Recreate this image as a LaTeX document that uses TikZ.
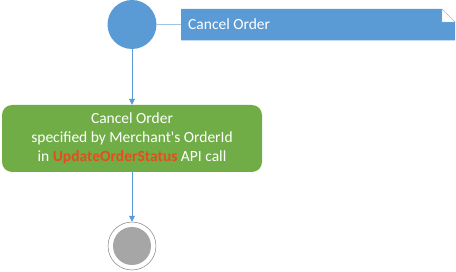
\documentclass[tikz,border=0pt]{standalone}
\usepackage{fontspec}
\setmainfont{Carlito}
\usetikzlibrary{arrows.meta}
\definecolor{vblue}{HTML}{5B9BD5}
\definecolor{lblue}{HTML}{9DC3E6}
\definecolor{vgreen}{HTML}{70AD47}
\definecolor{vred}{HTML}{E84C1C}
\definecolor{vgray}{HTML}{A6A6A6}
\tikzset{
  flow/.style={draw=vblue, line width=0.9pt, -{Triangle[length=6pt,width=6pt]}},
  lbl/.style={text=white, font=\fontsize{15.5}{18.8}\selectfont},
}
\begin{document}
\begin{tikzpicture}[x=1pt,y=1pt]
\useasboundingbox (0,0) rectangle (456,271);
% initial node
\node[circle, fill=vblue, minimum size=49pt, inner sep=0pt] (start) at (132,246.5) {};
% note
\fill[vblue] (181,230.5) -- (181,262) -- (442,262) -- (455,249) -- (455,230.5) -- cycle;
\draw[lblue, fill=white, line width=0.4pt] (442,262) -- (442,249) -- (455,249) -- cycle;
\node[lbl, anchor=west, inner sep=0pt] (note) at (188,246.5) {Cancel Order};
\coordinate (notel) at (181,246.5);
\draw[lblue, line width=1.3pt] (start.east) -- (notel);
% action
\node[fill=vgreen, rounded corners=10pt, minimum width=260pt, minimum height=67pt, inner sep=0pt, align=center, lbl] (act) at (132,132.5)
  {Cancel Order\\specified by Merchant\textquotesingle s OrderId\\in \textcolor{vred}{\textbf{UpdateOrderStatus}} API call};
% final
\node[circle, draw=gray, line width=0.5pt, minimum size=48pt, inner sep=0pt] (final) at (132,25) {};
\fill[vgray] (final.center) circle (19pt);
\draw[flow] (start.south) -- (act.north);
\draw[flow] (act.south) -- (final.north);
\end{tikzpicture}
\end{document}
